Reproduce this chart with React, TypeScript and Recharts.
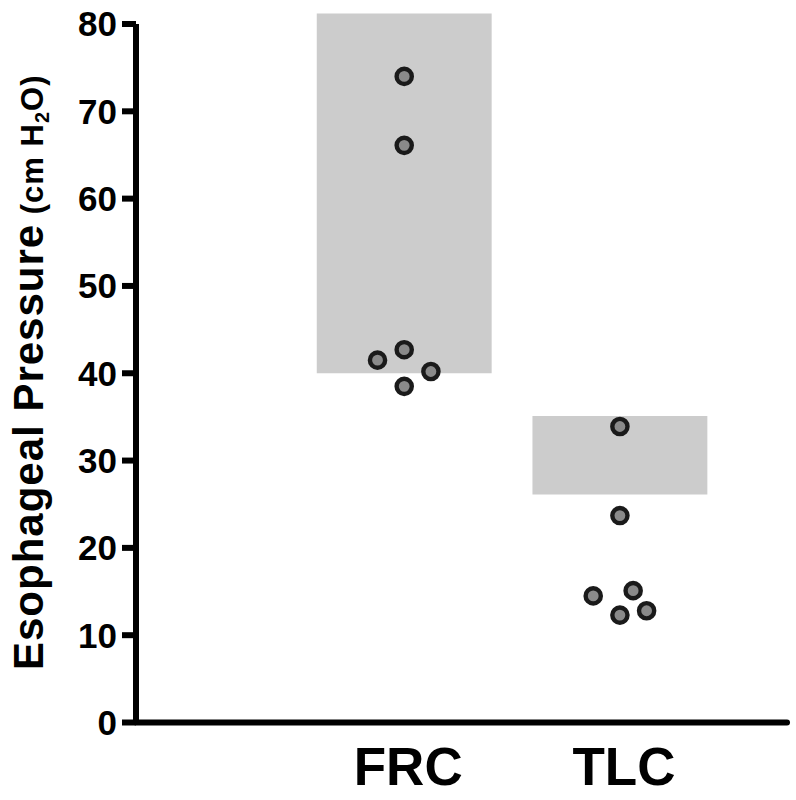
import React from 'react'
import {
  ComposedChart, Scatter, XAxis, YAxis, ReferenceArea,
} from 'recharts'

const SANS = '"Liberation Sans", Arial, Helvetica, sans-serif'
const NARROW = '"Liberation Sans Narrow", "Arial Narrow", "Liberation Sans", sans-serif'

// categories and where they sit on the numeric x axis
const categories = ['FRC', 'TLC']
const categoryPos = [1.236, 2.23]

// individual subjects (cm H2O) and their horizontal jitter
const frcValues = [74.0, 66.1, 41.5, 42.7, 40.2, 38.5]
const frcJitter = [0, 0, -0.123, 0, 0.123, 0]
const tlcValues = [33.9, 23.7, 14.5, 15.1, 12.3, 12.8]
const tlcJitter = [0, 0, -0.123, 0.061, 0, 0.123]

// shaded ranges [low, high]
const frcRange = [40, 81.2]
const tlcRange = [26.1, 35.1]
const boxHalfWidth = 0.403

const yTicks = [0, 10, 20, 30, 40, 50, 60, 70, 80]

const frcData = frcValues.map((v, i) => ({ x: categoryPos[0] + frcJitter[i], y: v }))
const tlcData = tlcValues.map((v, i) => ({ x: categoryPos[1] + tlcJitter[i], y: v }))

const Dot = (props: any) => (
  <circle cx={props.cx} cy={props.cy} r={7.6} fill="#8a8a8a" stroke="#1a1a1a" strokeWidth={4.4} />
)

const XTick = (props: any) => {
  const idx = categoryPos.indexOf(props.payload.value)
  return (
    <text x={props.x + 4} y={props.y + 62.5} textAnchor="middle" fontFamily={SANS}
      fontWeight="bold" fontSize={53} fill="#000">
      {categories[idx]}
    </text>
  )
}

const YTitle = (props: any) => {
  const vb = props.viewBox
  const cx = vb.x + 43
  const cy = vb.y + vb.height / 2 - 1
  return (
    <text x={cx} y={cy} transform={`rotate(-90, ${cx}, ${cy})`} textAnchor="middle"
      fontFamily={SANS} fontWeight="bold" fill="#000" letterSpacing={1}>
      <tspan fontSize={42}>Esophageal Pressure</tspan>
      <tspan fontSize={31}> (cm H</tspan>
      <tspan fontSize={20} dy={6}>2</tspan>
      <tspan fontSize={31} dy={-6}>O)</tspan>
    </text>
  )
}

export default function App() {
  return (
    <div>
      <style>{'body{margin:0}'}</style>
      <ComposedChart width={796} height={800} margin={{ top: 24, right: 9, bottom: 0, left: 0 }}>
        <XAxis
          type="number"
          dataKey="x"
          domain={[0, 3]}
          ticks={categoryPos}
          tick={<XTick />}
          tickLine={false}
          tickSize={0}
          tickMargin={0}
          height={77.5}
          axisLine={{ stroke: '#000', strokeWidth: 6, strokeLinecap: 'round' }}
        />
        <YAxis
          type="number"
          dataKey="y"
          domain={[0, 80]}
          ticks={yTicks}
          width={136}
          tickSize={14}
          tickMargin={5}
          tick={{ fontFamily: NARROW, fontWeight: 'bold', fontSize: 35, fill: '#000' }}
          tickLine={{ stroke: '#000', strokeWidth: 6 }}
          axisLine={{ stroke: '#000', strokeWidth: 6 }}
          label={{ content: (p: any) => <YTitle {...p} /> }}
        />
        <ReferenceArea
          x1={categoryPos[0] - boxHalfWidth} x2={categoryPos[0] + boxHalfWidth}
          y1={frcRange[0]} y2={frcRange[1]}
          fill="#cccccc" fillOpacity={1} stroke="none" ifOverflow="visible"
        />
        <ReferenceArea
          x1={categoryPos[1] - boxHalfWidth} x2={categoryPos[1] + boxHalfWidth}
          y1={tlcRange[0]} y2={tlcRange[1]}
          fill="#cccccc" fillOpacity={1} stroke="none" ifOverflow="visible"
        />
        <Scatter data={frcData} shape={<Dot />} isAnimationActive={false} />
        <Scatter data={tlcData} shape={<Dot />} isAnimationActive={false} />
      </ComposedChart>
    </div>
  )
}
